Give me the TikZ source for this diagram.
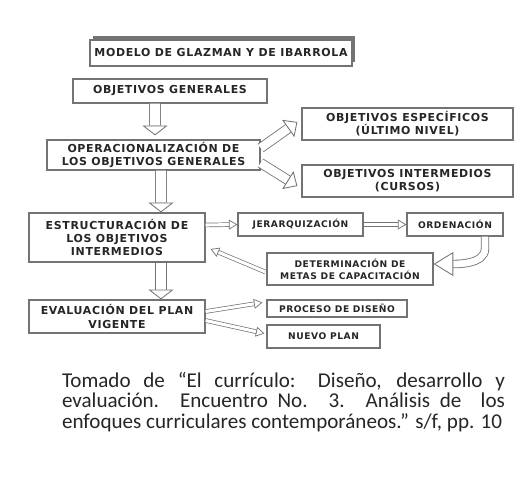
\documentclass[tikz,border=0pt]{standalone}
\usepackage{fontspec}
\usepackage{tikz}
\usetikzlibrary{arrows.meta, positioning, calc, shadows}
\newfontfamily\boxfont{DejaVu Sans}[LetterSpace=6]
\newfontfamily\notefont{Carlito}
\newdimen\pu \pu=0.025cm
\tikzset{
    % Boxes
    box/.style={rectangle, draw=black!55, line width=0.9pt, fill=white,
                inner sep=1pt, align=center, text=black!85,
                font=\boxfont\bfseries\fontsize{7.8}{9.4}\selectfont},
    smallbox/.style={box, font=\boxfont\bfseries\fontsize{6.5}{8.6}\selectfont},
    titlebox/.style={box, drop shadow={shadow xshift=3\pu, shadow yshift=4\pu,
                opacity=1, fill=black!55}},
    % Hollow arrows
    bigflow/.style={draw=black!55, line width=0.6pt, double=white, double distance=7.3pt,
                -{Triangle[length=7pt, width=18pt, fill=white]}},
    midflow/.style={bigflow, double distance=6pt, -{Triangle[length=8pt, width=15pt, fill=white]}},
    thinflow/.style={draw=black!55, line width=0.5pt, double=white, double distance=2.2pt,
                -{Triangle[length=6pt, width=7pt, fill=white]}},
    curveflow/.style={bigflow, double distance=4.8pt, -{Triangle[length=14pt, width=17pt, fill=white]}},
    note/.style={text width=443\pu, align=justify, inner sep=0pt, text=black!85,
                font=\notefont\fontsize{15}{14.6}\selectfont}
}

\begin{document}
\begin{tikzpicture}[x=1\pu, y=-1\pu]

\useasboundingbox (0,0) rectangle (520,480);

\node[titlebox, minimum width=262\pu, minimum height=26\pu] (title) at (221,53) {MODELO DE GLAZMAN Y DE IBARROLA};
\node[box, minimum width=194\pu, minimum height=24\pu] (gen) at (170,91) {OBJETIVOS GENERALES};
\node[box, minimum width=213\pu, minimum height=30\pu] (oper) at (153.5,155) {OPERACIONALIZACIÓN DE\\LOS OBJETIVOS GENERALES};
\node[box, minimum width=211\pu, minimum height=32\pu] (esp) at (407.5,124) {OBJETIVOS ESPECÍFICOS\\(ÚLTIMO NIVEL)};
\node[box, minimum width=211\pu, minimum height=32\pu] (inter) at (407.5,181) {OBJETIVOS INTERMEDIOS\\(CURSOS)};
\node[box, minimum width=176\pu, minimum height=49\pu] (estr) at (117,237.5) {ESTRUCTURACIÓN DE\\LOS OBJETIVOS\\INTERMEDIOS};
\node[smallbox, minimum width=125\pu, minimum height=23\pu] (jer) at (300.5,224.5) {JERARQUIZACIÓN};
\node[smallbox, minimum width=96\pu, minimum height=23\pu] (ord) at (455,224.5) {ORDENACIÓN};
\node[smallbox, minimum width=166\pu, minimum height=32\pu] (det) at (350,269) {DETERMINACIÓN DE\\METAS DE CAPACITACIÓN};
\node[box, minimum width=176\pu, minimum height=33\pu] (eval) at (117,316.5) {EVALUACIÓN DEL PLAN\\VIGENTE};
\node[smallbox, minimum width=140\pu, minimum height=17\pu] (proc) at (337,308.5) {PROCESO DE DISEÑO};
\node[smallbox, minimum width=113\pu, minimum height=23\pu] (nuevo) at (323.5,336.5) {NUEVO PLAN};

\node[note] (fuente) at (283.5,402) {\parfillskip=0pt Tomado de “El currículo: Diseño, desarrollo y\linebreak
evaluación. Encuentro No. 3. Análisis de \ los\linebreak
enfoques curriculares contemporáneos.” s/f, pp. 10};

% main column
\draw[bigflow, shorten >=4\pu] ($(gen.south)+(-15,0)$) -- ($(oper.north)+(1.5,0)$);
\draw[bigflow] ($(oper.south)+(7.5,0)$) -- ($(estr.north)+(44,0)$);
\draw[bigflow] ($(estr.south)+(44,0)$) -- ($(eval.north)+(44,0)$);

% branches
\draw[midflow] ($(oper.east)+(0,-7)$) -- ($(esp.west)+(-4,-2)$);
\draw[midflow] ($(oper.east)+(0,8)$) -- ($(inter.west)+(-4,5)$);
\draw[thinflow] ($(estr.east)+(0,-12.5)$) -- (jer.west);
\draw[thinflow] (jer.east) -- (ord.west);
\draw[curveflow] ($(ord.south)+(30,0)$) -- ++(0,12) .. controls +(0,16) and +(22,0) .. ($(det.east)+(0,-5)$);
\draw[thinflow] ($(det.west)+(-1,3)$) -- ($(estr.east)+(5,11.5)$);
\draw[thinflow] ($(eval.east)+(0,-5)$) -- ($(proc.west)+(-4,-6)$);
\draw[thinflow] ($(eval.east)+(0,4)$) -- ($(nuevo.west)+(-2,-3)$);

\end{tikzpicture}
\end{document}
